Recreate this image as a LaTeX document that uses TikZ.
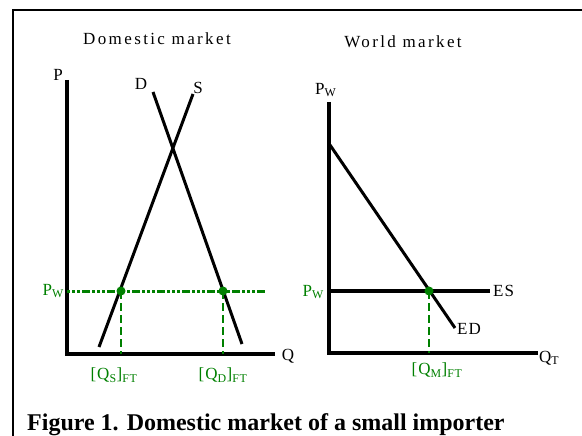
\documentclass[tikz,border=0pt]{standalone}
\usepackage{fontspec}
\setmainfont{Liberation Serif}
\usetikzlibrary{positioning,calc}
\definecolor{ftgreen}{HTML}{008000}
\tikzset{
  frame/.style={draw=black,line width=2.5pt},
  axis/.style={draw=black,line width=4pt,line join=miter},
  curve/.style={draw=black,line width=3pt},
  esline/.style={draw=black,line width=4pt},
  pwline/.style={draw=ftgreen,line width=3pt,dash pattern=on 3pt off 2pt on 3pt off 2pt on 3pt off 2pt on 8pt off 2pt},
  drop/.style={draw=ftgreen,line width=2.8pt,dash pattern=on 8pt off 4pt},
  eqpt/.style={circle,fill=ftgreen,inner sep=0pt,minimum size=9pt},
  lbl/.style={font=\fontsize{17}{19}\selectfont\addfontfeature{LetterSpace=6},inner sep=0pt},
  glbl/.style={lbl,text=ftgreen},
  ttl/.style={font=\fontsize{17}{19}\selectfont\addfontfeature{LetterSpace=14},inner sep=0pt},
  figcap/.style={font=\fontsize{24}{26}\selectfont\bfseries,inner sep=0pt}}

\begin{document}
\begin{tikzpicture}[x=1pt,y=-1pt]
  \useasboundingbox (0,0) rectangle (582,436);
  \draw[frame] (13,480) |- (620,10);

  \node[ttl] (dtitle) at (157,39) {Domestic market};
  \coordinate (dtop) at (67,80);
  \coordinate (dorig) at (67,354);
  \coordinate (dend) at (275,354);
  \draw[axis] (dtop) -- (dorig) -- (dend);
  \node[lbl] (dp) at (58,75) {P};
  \node[lbl] (dq) at (288,356) {Q};
  \coordinate (d1) at (153,92);
  \coordinate (d2) at (242,344);
  \coordinate (s1) at (193,94);
  \coordinate (s2) at (99,347);
  \draw[curve] (d1) -- (d2);
  \draw[curve] (s1) -- (s2);
  \node[lbl] (dl) at (141,84) {D};
  \node[lbl] (sl) at (198,88) {S};
  \coordinate (pw0) at (67,291);
  \coordinate (pw1) at (265,291);
  \node[eqpt] (qs) at (121,291) {};
  \node[eqpt] (qd) at (223,291) {};
  \draw[pwline] (pw0) -- (pw1);
  \draw[drop] (qs.center) -- (qs.center |- dorig);
  \draw[drop] (qd.center) -- (qd.center |- dorig);
  \node[glbl,anchor=east] (dpw) at (64,291) {P\textsubscript{W}};
  \node[glbl] (qsl) at (114,375) {[Q\textsubscript{S}]\textsubscript{FT}};
  \node[glbl] (qdl) at (223,375) {[Q\textsubscript{D}]\textsubscript{FT}};

  \node[ttl] (wtitle) at (403,42) {World market};
  \coordinate (wtop) at (329,102);
  \coordinate (worig) at (329,353);
  \coordinate (wend) at (538,353);
  \draw[axis] (wtop) -- (worig) -- (wend);
  \node[lbl,anchor=west] (wp) at (315,90) {P\textsubscript{W}};
  \node[lbl,anchor=west] (wq) at (539,358) {Q\textsubscript{T}};
  \coordinate (ed1) at (330,145);
  \coordinate (ed2) at (455,328);
  \coordinate (es1) at (329,291);
  \coordinate (es2) at (490,291);
  \draw[esline] (es1) -- (es2);
  \draw[curve] (ed1) -- (ed2);
  \node[eqpt] (qm) at (429,291) {};
  \draw[drop] (qm.center) -- (qm.center |- worig);
  \node[lbl,anchor=west] (esl) at (493,291) {ES};
  \node[lbl,anchor=west] (edl) at (457,329) {ED};
  \node[glbl,anchor=east] (wpw) at (324,292) {P\textsubscript{W}};
  \node[glbl] (qml) at (437,370) {[Q\textsubscript{M}]\textsubscript{FT}};

  \node[figcap,anchor=base west] (fig) at (27,430) {Figure 1. Domestic market of a small importer};
\end{tikzpicture}
\end{document}
